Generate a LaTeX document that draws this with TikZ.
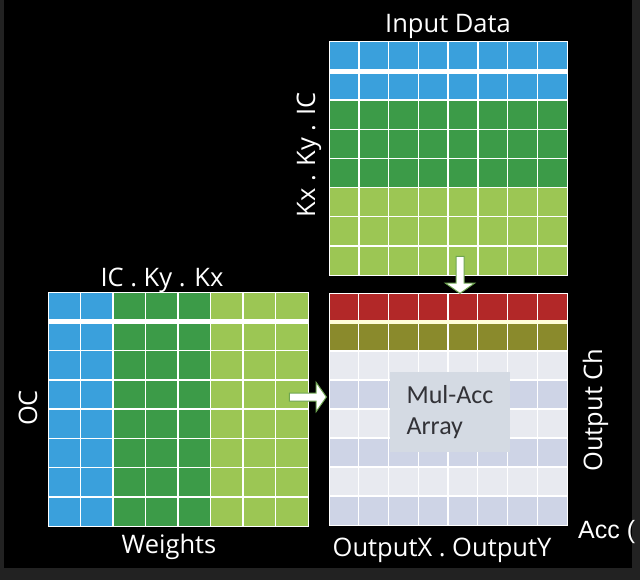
\documentclass[tikz,border=0pt]{standalone}
\usepackage{fontspec}
\setmainfont{Open Sans}
\newfontfamily\accfont{Liberation Sans}
\newfontfamily\boxfont{Carlito}
\usetikzlibrary{shapes.arrows}

\definecolor{cellblue}{RGB}{58,160,220}
\definecolor{celldkgreen}{RGB}{60,155,72}
\definecolor{cellltgreen}{RGB}{156,198,84}
\definecolor{cellred}{RGB}{178,40,40}
\definecolor{cellolive}{RGB}{138,138,44}
\definecolor{celllight}{RGB}{232,234,240}
\definecolor{celllav}{RGB}{206,212,230}
\definecolor{macfill}{RGB}{212,218,227}
\definecolor{mactext}{RGB}{50,50,55}
\definecolor{framegray}{RGB}{34,34,34}
\definecolor{arrowgreen}{RGB}{110,165,80}

\begin{document}
\begin{tikzpicture}[x=1pt, y=-1pt,
    lbl/.style={text=white, inner sep=0pt, font=\fontsize{25.5}{30}\selectfont},
    gridline/.style={white, line width=1.5pt},
    fatarrow/.style={single arrow, fill=white, draw=arrowgreen, line width=1pt,
        inner sep=3.5pt, single arrow head extend=10.5pt, single arrow tip angle=110,
        minimum height=37pt}]
    \useasboundingbox (0,0) rectangle (640,580);
    \fill[framegray] (0,0) rectangle (640,580);
    \fill[black] (4,0) rectangle (632,568);

    % input data
    \fill[cellblue] (329,42) rectangle (567,100.25);
    \fill[celldkgreen] (329,100.25) rectangle (567,187.6);
    \fill[cellltgreen] (329,187.6) rectangle (567,275);
    \foreach \i in {1,...,7} {
        \draw[gridline] ({329+\i*29.75},42) -- ++(0,233);
        \draw[gridline] (329,{42+\i*29.125}) -- ++(238,0);
    }
    \draw[white, line width=5pt] (329,71.1) -- ++(238,0);
    \draw[white, line width=1pt] (329,42) rectangle (567,275);

    % weights
    \fill[cellblue] (48,292) rectangle (113,526);
    \fill[celldkgreen] (113,292) rectangle (210.5,526);
    \fill[cellltgreen] (210.5,292) rectangle (308,526);
    \foreach \i in {1,...,7} {
        \draw[gridline] ({48+\i*32.5},292) -- ++(0,234);
        \draw[gridline] (48,{292+\i*29.25}) -- ++(260,0);
    }
    \draw[white, line width=5pt] (48,321.25) -- ++(260,0);
    \draw[white, line width=1pt] (48,292) rectangle (308,526);

    % output array
    \fill[cellred] (329,293) rectangle (567,322);
    \fill[cellolive] (329,322) rectangle (567,351);
    \foreach \r/\c in {2/celllight, 3/celllav, 4/celllight, 5/celllav, 6/celllight, 7/celllav}
        \fill[\c] (329,{293+\r*29}) rectangle (567,{322+\r*29});
    \foreach \i in {1,...,7} {
        \draw[gridline, line width=1.2pt] ({329+\i*29.75},293) -- ++(0,232);
        \draw[gridline, line width=1.2pt] (329,{293+\i*29}) -- ++(238,0);
    }
    \draw[white!85!yellow, line width=4pt] (329,322) -- ++(238,0);
    \draw[white, line width=1pt] (329,293) rectangle (567,525);

    \node[fill=macfill, minimum width=120pt, minimum height=80pt, inner xsep=17pt,
        align=left, text=mactext, font=\boxfont\fontsize{26}{31}\selectfont]
        (macc) at (450,412) {Mul-Acc\\Array};

    % arrows
    \node[fatarrow, rotate=-90, anchor=tip] (downarrow) at (460,294) {};
    \node[fatarrow, anchor=tip] (rightarrow) at (327,397) {};

    % labels
    \node[lbl, anchor=base] (indatalbl) at (448,33) {Input Data};
    \node[lbl, anchor=base, rotate=90] (kxkyic) at (315,155) {Kx . Ky . IC};
    \node[lbl, anchor=base] (ickykx) at (162,286) {IC . Ky . Kx};
    \node[lbl, anchor=base, rotate=90] (oclbl) at (37,408) {OC};
    \node[lbl, anchor=base] (weightslbl) at (169,553) {Weights};
    \node[lbl, anchor=base] (outxylbl) at (442,556) {OutputX . OutputY};
    \node[lbl, anchor=base, rotate=90] (outchlbl) at (602,410) {Output Ch};
    \node[lbl, anchor=base west, font=\accfont\fontsize{25}{30}\selectfont] (acclbl) at (578,538) {Acc (};
\end{tikzpicture}
\end{document}
